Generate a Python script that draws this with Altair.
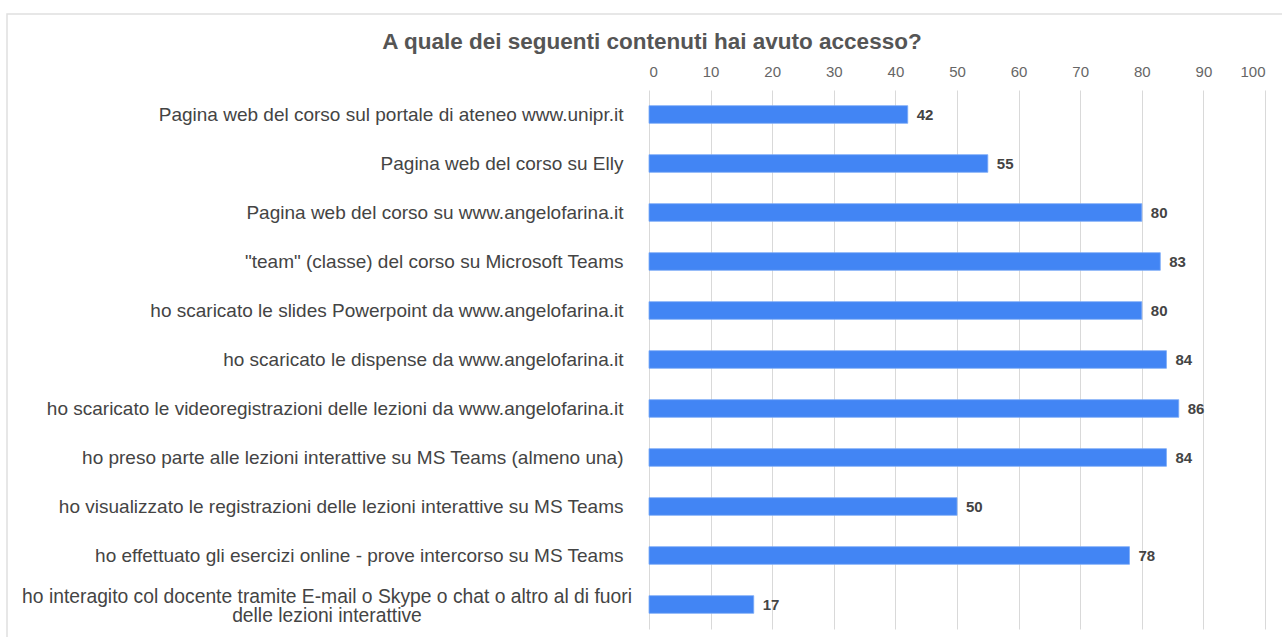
import altair as alt
import pandas as pd

# ---- data ----
categories = [
    "Pagina web del corso sul portale di ateneo www.unipr.it",
    "Pagina web del corso su Elly",
    "Pagina web del corso su www.angelofarina.it",
    "\"team\" (classe) del corso su Microsoft Teams",
    "ho scaricato le slides Powerpoint da www.angelofarina.it",
    "ho scaricato le dispense da www.angelofarina.it",
    "ho scaricato le videoregistrazioni delle lezioni da www.angelofarina.it",
    "ho preso parte alle lezioni interattive su MS Teams (almeno una)",
    "ho visualizzato le registrazioni delle lezioni interattive su MS Teams",
    "ho effettuato gli esercizi online - prove intercorso su MS Teams",
    "ho interagito col docente tramite E-mail o Skype o chat o altro al di fuori delle lezioni interattive",
]
values = [42, 55, 80, 83, 80, 84, 86, 84, 50, 78, 17]
# the last label is shown on two lines
wrapped_last = ["ho interagito col docente tramite E-mail o Skype o chat o altro al di fuori",
                "delle lezioni interattive"]
x_ticks = [0, 10, 20, 30, 40, 50, 60, 70, 80, 90, 100]
title_text = "A quale dei seguenti contenuti hai avuto accesso?"

df = pd.DataFrame({"cat": categories, "val": values})
df["wrapped"] = ["\n".join(wrapped_last) if c == categories[-1] else "" for c in categories]

FONT = "Liberation Sans, Arial, sans-serif"
W, H = 616, 539

y_enc = alt.Y(
    "cat:N",
    sort=categories,
    scale=alt.Scale(paddingInner=0.64, paddingOuter=0.32),
    axis=alt.Axis(
        title=None,
        labelExpr="length(datum.label) > 90 ? '' : datum.label",
        labelFont=FONT,
        labelFontSize=19,
        labelColor="#444444",
        labelPadding=26,
        labelLimit=0,
        ticks=False,
        domain=False,
        grid=False,
    ),
)

x_enc = alt.X(
    "val:Q",
    scale=alt.Scale(domain=[0, 100], nice=False),
    axis=alt.Axis(
        orient="top",
        title=None,
        values=x_ticks,
        labelFont=FONT,
        labelFontSize=15,
        labelColor="#666666",
        labelPadding=11,
        ticks=False,
        domain=False,
        grid=True,
        gridColor="#d9d9d9",
        gridWidth=1,
    ),
)

base = alt.Chart(df)

bars = base.mark_bar(color="#4285F4", stroke="#7aa9f7", strokeWidth=0.8).encode(x=x_enc, y=y_enc)

value_labels = base.mark_text(
    align="left", baseline="middle", dx=9, font=FONT, fontSize=15,
    fontWeight="bold", color="#444444"
).encode(x="val:Q", y=alt.Y("cat:N", sort=categories), text="val:Q")

long_label = base.transform_filter(
    alt.datum.wrapped != ""
).mark_text(
    align="center", baseline="middle", lineBreak="\n", lineHeight=19.5, dy=-8,
    font=FONT, fontSize=19.3, color="#444444"
).encode(
    x=alt.value(-322),
    y=alt.Y("cat:N", sort=categories),
    text="wrapped:N",
)

frame = alt.Chart(pd.DataFrame({"f": [0]})).mark_rect(
    fill=None, stroke="#e0e0e0", strokeWidth=1.5
).encode(
    x=alt.value(-642), x2=alt.value(W + 40),
    y=alt.value(-76), y2=alt.value(H + 40),
)

chart = alt.layer(frame, bars, value_labels, long_label).properties(
    width=W,
    height=H,
    background="white",
    padding={"left": 649, "top": 90, "right": 17, "bottom": 8},
    autosize=alt.AutoSizeParams(type="none"),
    title=alt.TitleParams(
        text=title_text,
        font=FONT,
        fontSize=22.5,
        fontWeight="bold",
        color="#555555",
        anchor="middle",
        frame="group",
        dx=-305,
        offset=-40,
    ),
).configure_view(stroke="transparent", strokeWidth=0)

chart.save("out.html", embed_options={"renderer": "svg", "actions": False})
